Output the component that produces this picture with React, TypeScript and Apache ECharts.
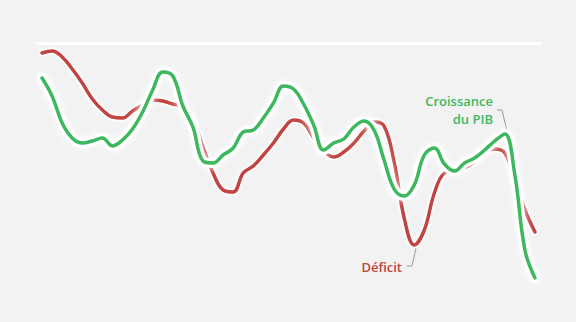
import React, { useEffect, useRef } from "react";
import * as echarts from "echarts";

const periods: string[] = Array.from({ length: 50 }, (_, i) => `P${i + 1}`);

const croissance: number[] = [
  20.5, 18.7, 16.0, 14.5, 14.0, 14.2, 14.5, 13.7, 14.3, 15.4,
  17.1, 19.3, 21.1, 20.7, 17.7, 15.6, 12.2, 12.0, 12.8, 13.5,
  15.1, 15.3, 16.5, 18.0, 19.7, 19.4, 17.9, 15.8, 13.3, 14.0,
  14.4, 15.6, 16.2, 15.3, 12.3, 9.4, 8.7, 9.8, 12.8, 13.5,
  11.9, 11.2, 12.0, 12.5, 13.3, 14.2, 14.9, 10.8, 3.3, 0.5,
];

const deficit: number[] = [
  23.0, 23.2, 22.6, 21.4, 20.0, 18.4, 17.3, 16.6, 16.5, 17.2,
  17.8, 18.3, 18.2, 17.9, 17.6, 16.3, 13.6, 11.0, 9.3, 9.1,
  11.0, 11.7, 12.8, 14.0, 15.4, 16.3, 16.0, 14.5, 13.2, 12.6,
  13.1, 14.0, 15.2, 16.1, 15.7, 12.1, 6.5, 3.8, 5.3, 9.0,
  11.0, 11.2, 11.5, 12.1, 13.1, 13.4, 13.0, 10.3, 7.3, 5.1,
];

const GREEN = "#3db85f";
const RED = "#c04442";

export default function App() {
  const ref = useRef<HTMLDivElement>(null);
  useEffect(() => {
    if (!ref.current) return;
    const chart = echarts.init(ref.current, null, { renderer: "svg" });
    const halo = (data: number[], w: number, blur: number, z: number) => ({
      type: "line",
      data,
      smooth: 0.4,
      symbol: "none",
      silent: true,
      z,
      lineStyle: {
        color: "#ffffff",
        width: w,
        shadowColor: "rgba(255,255,255,0.9)",
        shadowBlur: blur,
        cap: "round",
      },
    });
    const font = '600 13px "Open Sans", sans-serif';
    chart.setOption({
      animation: false,
      backgroundColor: "#f2f2f2",
      grid: { left: 37, right: 36, top: 43, bottom: 39 },
      xAxis: {
        type: "category",
        data: periods,
        position: "top",
        boundaryGap: true,
        axisLine: { show: true, onZero: false, lineStyle: { color: "#ffffff", width: 3 } },
        axisTick: { show: false },
        axisLabel: { show: false },
      },
      yAxis: {
        type: "value",
        min: 0,
        max: 24,
        show: false,
        splitLine: { show: false },
      },
      series: [
        halo(deficit, 6, 3, 1),
        {
          type: "line",
          name: "Déficit",
          data: deficit,
          smooth: 0.4,
          symbol: "none",
          z: 2,
          lineStyle: { color: RED, width: 3.5, cap: "round" },
        },
        halo(croissance, 10, 6, 3),
        {
          type: "line",
          name: "Croissance du PIB",
          data: croissance,
          smooth: 0.4,
          symbol: "none",
          z: 4,
          lineStyle: { color: GREEN, width: 3.5, cap: "round" },
        },
      ],
      graphic: [
        {
          type: "text",
          x: 493,
          y: 101,
          style: { text: "Croissance", fill: GREEN, font, align: "right", verticalAlign: "middle" },
        },
        {
          type: "text",
          x: 493,
          y: 119,
          style: { text: "du PIB", fill: GREEN, font, align: "right", verticalAlign: "middle" },
        },
        {
          type: "polyline",
          shape: { points: [[497, 110], [502, 110], [507, 131]] },
          style: { stroke: "#9a9a9a", lineWidth: 1, fill: "none" },
        },
        {
          type: "text",
          x: 402,
          y: 267,
          style: { text: "Déficit", fill: RED, font, align: "right", verticalAlign: "middle" },
        },
        {
          type: "polyline",
          shape: { points: [[407, 266], [412, 266], [416, 248]] },
          style: { stroke: "#9a9a9a", lineWidth: 1, fill: "none" },
        },
      ],
    });
    return () => chart.dispose();
  }, []);
  return (
    <div
      ref={ref}
      style={{ position: "fixed", left: 0, top: 0, width: 576, height: 322, background: "#f2f2f2" }}
    />
  );
}
